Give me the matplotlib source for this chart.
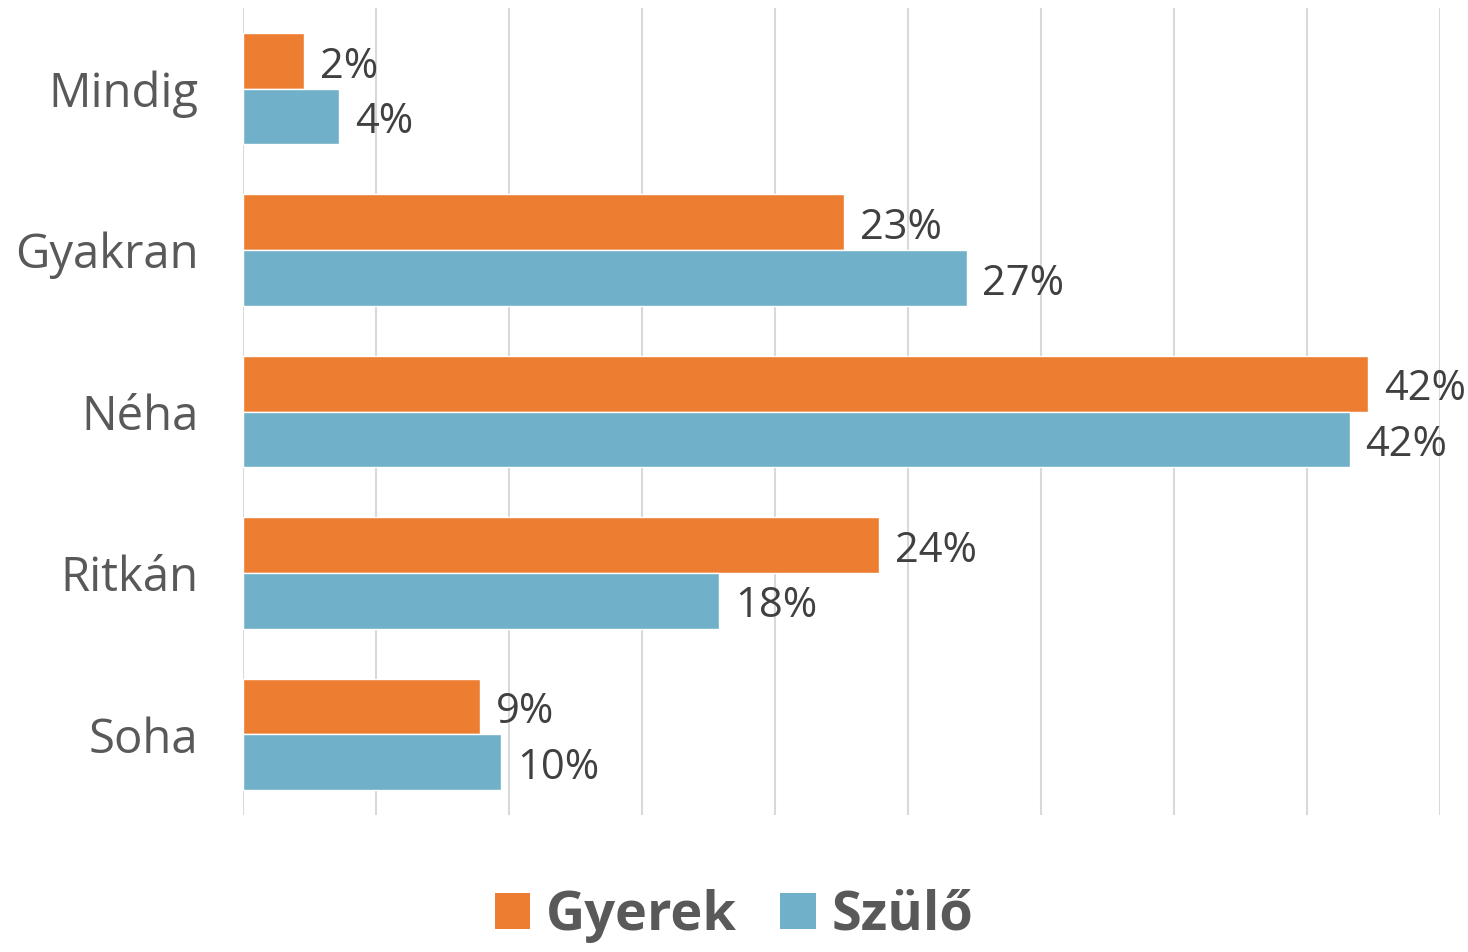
import numpy as np
import matplotlib.pyplot as plt
from matplotlib.patches import Patch

plt.rcParams['font.family'] = ['Open Sans', 'DejaVu Sans']

# --- Données ---
categories = ["Mindig", "Gyakran", "Néha", "Ritkán", "Soha"]
gyerek = [2.3, 22.6, 42.3, 23.9, 8.9]
szulo = [3.6, 27.2, 41.6, 17.9, 9.7]
series_names = ["Gyerek", "Szülő"]

c_gyerek = "#ED7D31"
c_szulo = "#70B0C8"
txt = "#595959"

fig = plt.figure(figsize=(14.68, 9.52), dpi=100)
ax = fig.add_axes([243 / 1468, 1 - 815 / 952, (1440 - 243) / 1468, (815 - 8) / 952])

y = np.arange(len(categories))
h = 0.345
b1 = ax.barh(y - h / 2, gyerek, height=h, color=c_gyerek, edgecolor="white", linewidth=1)
b2 = ax.barh(y + h / 2, szulo, height=h, color=c_szulo, edgecolor="white", linewidth=1)

for bars, vals in ((b1, gyerek), (b2, szulo)):
    for bar, v in zip(bars, vals):
        ax.text(bar.get_width() + 0.6, bar.get_y() + bar.get_height() / 2 + 0.035,
                "{:.0f}%".format(v), va="center", ha="left", fontsize=30, color="#404040")

ax.set_xlim(0, 45)
ax.set_xticks(np.arange(0, 46, 5))
ax.set_xticklabels([])
ax.tick_params(axis="x", length=0)
ax.set_ylim(len(categories) - 0.5, -0.5)
ax.set_yticks(y)
ax.set_yticklabels(categories, fontsize=34, color=txt)
ax.tick_params(axis="y", length=0, pad=32)
ax.grid(axis="x", color="#D9D9D9", linewidth=1.5)
ax.set_axisbelow(True)
for s in ax.spines.values():
    s.set_visible(False)

handles = [Patch(facecolor=c_gyerek), Patch(facecolor=c_szulo)]
fig.legend(handles, series_names, loc="center", bbox_to_anchor=(0.5, 1 - 916 / 952),
           ncol=2, frameon=False, prop={"weight": "bold", "size": 39},
           labelcolor=txt, handlelength=0.65, handleheight=0.65,
           handletextpad=0.3, columnspacing=0.8)

plt.savefig("out.png", dpi=100)
